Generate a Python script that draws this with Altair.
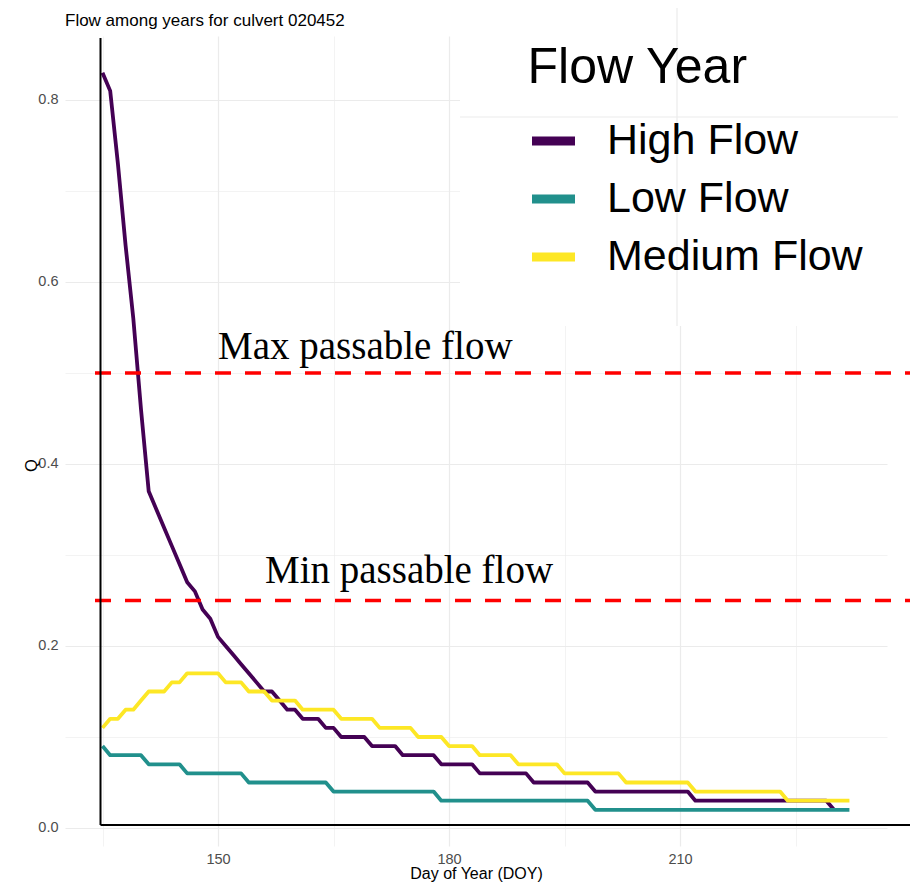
import altair as alt
import pandas as pd

# ---------------- data ----------------
categories = ["High Flow", "Low Flow", "Medium Flow"]
colors = ["#440154", "#21908C", "#FDE725"]
start_day = 135

high_flow = [
    0.83, 0.81, 0.73, 0.64, 0.56, 0.46, 0.37, 0.35, 0.33, 0.31,   # 135-144
    0.29, 0.27, 0.26, 0.24, 0.23, 0.21, 0.20, 0.19, 0.18, 0.17,   # 145-154
    0.16, 0.15, 0.15, 0.14, 0.13, 0.13, 0.12, 0.12, 0.12, 0.11,   # 155-164
    0.11, 0.10, 0.10, 0.10, 0.10, 0.09, 0.09, 0.09, 0.09, 0.08,   # 165-174
    0.08, 0.08, 0.08, 0.08, 0.07, 0.07, 0.07, 0.07, 0.07, 0.06,   # 175-184
    0.06, 0.06, 0.06, 0.06, 0.06, 0.06, 0.05, 0.05, 0.05, 0.05,   # 185-194
    0.05, 0.05, 0.05, 0.05, 0.04, 0.04, 0.04, 0.04, 0.04, 0.04,   # 195-204
    0.04, 0.04, 0.04, 0.04, 0.04, 0.04, 0.04, 0.03, 0.03, 0.03,   # 205-214
    0.03, 0.03, 0.03, 0.03, 0.03, 0.03, 0.03, 0.03, 0.03, 0.03,   # 215-224
    0.03, 0.03, 0.03, 0.03, 0.03, 0.02,                           # 225-230
]

medium_flow = [
    0.11, 0.12, 0.12, 0.13, 0.13, 0.14, 0.15, 0.15, 0.15, 0.16,   # 135-144
    0.16, 0.17, 0.17, 0.17, 0.17, 0.17, 0.16, 0.16, 0.16, 0.15,   # 145-154
    0.15, 0.15, 0.14, 0.14, 0.14, 0.14, 0.13, 0.13, 0.13, 0.13,   # 155-164
    0.13, 0.12, 0.12, 0.12, 0.12, 0.12, 0.11, 0.11, 0.11, 0.11,   # 165-174
    0.11, 0.10, 0.10, 0.10, 0.10, 0.09, 0.09, 0.09, 0.09, 0.08,   # 175-184
    0.08, 0.08, 0.08, 0.08, 0.07, 0.07, 0.07, 0.07, 0.07, 0.07,   # 185-194
    0.06, 0.06, 0.06, 0.06, 0.06, 0.06, 0.06, 0.06, 0.05, 0.05,   # 195-204
    0.05, 0.05, 0.05, 0.05, 0.05, 0.05, 0.05, 0.04, 0.04, 0.04,   # 205-214
    0.04, 0.04, 0.04, 0.04, 0.04, 0.04, 0.04, 0.04, 0.04, 0.03,   # 215-224
    0.03, 0.03, 0.03, 0.03, 0.03, 0.03, 0.03, 0.03,               # 225-232
]

low_flow = [
    0.09, 0.08, 0.08, 0.08, 0.08, 0.08, 0.07, 0.07, 0.07, 0.07,   # 135-144
    0.07, 0.06, 0.06, 0.06, 0.06, 0.06, 0.06, 0.06, 0.06, 0.05,   # 145-154
    0.05, 0.05, 0.05, 0.05, 0.05, 0.05, 0.05, 0.05, 0.05, 0.05,   # 155-164
    0.04, 0.04, 0.04, 0.04, 0.04, 0.04, 0.04, 0.04, 0.04, 0.04,   # 165-174
    0.04, 0.04, 0.04, 0.04, 0.03, 0.03, 0.03, 0.03, 0.03, 0.03,   # 175-184
    0.03, 0.03, 0.03, 0.03, 0.03, 0.03, 0.03, 0.03, 0.03, 0.03,   # 185-194
    0.03, 0.03, 0.03, 0.03, 0.02, 0.02, 0.02, 0.02, 0.02, 0.02,   # 195-204
    0.02, 0.02, 0.02, 0.02, 0.02, 0.02, 0.02, 0.02, 0.02, 0.02,   # 205-214
    0.02, 0.02, 0.02, 0.02, 0.02, 0.02, 0.02, 0.02, 0.02, 0.02,   # 215-224
    0.02, 0.02, 0.02, 0.02, 0.02, 0.02, 0.02, 0.02,               # 225-232
]

threshold_values = [0.5, 0.25]
annotation_labels = ["Max passable flow", "Min passable flow"]
annotation_x = [150.0, 156.1]
annotation_y = [0.515, 0.269]

x_tick_values = [135, 150, 165, 180, 195, 210, 225]
y_tick_values = [0.0, 0.1, 0.2, 0.3, 0.4, 0.5, 0.6, 0.7, 0.8]

chart_title = "Flow among years for culvert 020452"
x_title = "Day of Year (DOY)"
y_title = "Q"
legend_title = "Flow Year"

# ---------------- tables ----------------
rows = []
for name, series in zip(categories, [high_flow, low_flow, medium_flow]):
    for i, v in enumerate(series):
        rows.append({"day": start_day + i, "Q": v, "Flow Year": name})
df = pd.DataFrame(rows)

thr_df = pd.DataFrame({"y": threshold_values})
ann_df = pd.DataFrame({"label": annotation_labels, "x": annotation_x, "y": annotation_y})
one = pd.DataFrame({"a": [0]})
title_df = pd.DataFrame({"t": [chart_title]})

W, H = 822, 810
PAD = {"left": 57, "top": 28, "right": 23, "bottom": 37}
RIGHT_EDGE = W + PAD["right"]

x_scale = alt.Scale(domain=[130.13, 236.88], nice=False, zero=False)
y_scale = alt.Scale(domain=[-0.0198, 0.8703], nice=False, zero=False)

SANS = "Liberation Sans, Arial, sans-serif"
GRID = "#EBEBEB"

x_axis = alt.Axis(
    values=x_tick_values,
    labelExpr="datum.value % 30 == 0 ? datum.label : ''",
    title=x_title,
    grid=True,
    gridColor=GRID,
    gridWidth={"condition": {"test": "datum.value % 30 != 0", "value": 0.6}, "value": 1.2},
    ticks=False,
    domain=False,
    labelFont=SANS,
    labelFontSize=14.5,
    labelColor="#4D4D4D",
    labelPadding=6,
    titleFont=SANS,
    titleFontSize=16,
    titleFontWeight="normal",
    titleColor="black",
    titlePadding=0,
)
y_axis = alt.Axis(
    values=y_tick_values,
    labelExpr="round(datum.value * 10) % 2 == 0 ? format(datum.value, '.1f') : ''",
    title=y_title,
    grid=True,
    gridColor=GRID,
    gridWidth={"condition": {"test": "round(datum.value * 10) % 2 == 1", "value": 0.6}, "value": 1.2},
    ticks=False,
    domain=False,
    labelFont=SANS,
    labelFontSize=14.5,
    labelColor="#4D4D4D",
    labelPadding=7,
    titleFont=SANS,
    titleFontSize=16.5,
    titleFontWeight="normal",
    titleColor="black",
    titleX=-34,
    titleY=429,
    titleBaseline="middle",
)

# white box behind the legend (covers gridlines)
legend_box = alt.Chart(one).mark_rect(color="white", clip=False).encode(
    x=alt.value(395), x2=alt.value(RIGHT_EDGE), y=alt.value(-28), y2=alt.value(290)
)
legend_line_v = alt.Chart(one).mark_rule(color=GRID, strokeWidth=1.2, clip=False).encode(
    x=alt.value(612), y=alt.value(-28), y2=alt.value(290)
)
legend_line_h = alt.Chart(one).mark_rule(color=GRID, strokeWidth=1.2, clip=False).encode(
    y=alt.value(81), x=alt.value(395), x2=alt.value(833)
)

lines = alt.Chart(df).mark_line(strokeWidth=3.8, strokeJoin="round").encode(
    x=alt.X("day:Q", scale=x_scale, axis=x_axis),
    y=alt.Y("Q:Q", scale=y_scale, axis=y_axis),
    color=alt.Color(
        "Flow Year:N",
        scale=alt.Scale(domain=categories, range=colors),
        legend=alt.Legend(
            orient="none",
            legendX=462.5,
            legendY=7,
            title=legend_title,
            titleFont=SANS,
            titleFontSize=50,
            titleFontWeight="normal",
            titleColor="black",
            titlePadding=22,
            titleLimit=0,
            labelFont=SANS,
            labelFontSize=43,
            labelColor="black",
            labelLimit=0,
            labelOffset=27.5,
            symbolType="stroke",
            symbolSize=1849,
            symbolStrokeWidth=9,
            rowPadding=10,
            padding=0,
        ),
    ),
)

thresholds = alt.Chart(thr_df).mark_rule(
    color="#FF0000", strokeWidth=3.5, strokeDash=[16, 14], clip=False
).encode(y=alt.Y("y:Q", scale=y_scale), x=alt.value(30), x2=alt.value(RIGHT_EDGE))

annotations = alt.Chart(ann_df).mark_text(
    font="Liberation Serif, Times New Roman, serif", fontSize=39, align="left",
    baseline="alphabetic", color="black"
).encode(x=alt.X("x:Q", scale=x_scale), y=alt.Y("y:Q", scale=y_scale), text="label:N")

axis_v = alt.Chart(one).mark_rule(color="black", strokeWidth=2, clip=False).encode(
    x=alt.value(35.5), y=alt.value(2), y2=alt.value(789)
)
axis_h = alt.Chart(one).mark_rule(color="black", strokeWidth=2, clip=False).encode(
    y=alt.value(789), x=alt.value(35.5), x2=alt.value(RIGHT_EDGE)
)

title_text = alt.Chart(title_df).mark_text(
    font=SANS, fontSize=17, align="left", baseline="alphabetic", color="black"
).encode(x=alt.value(0), y=alt.value(-10), text="t:N")

chart = alt.layer(
    legend_box, legend_line_v, legend_line_h, lines, thresholds, annotations,
    axis_v, axis_h, title_text
).properties(
    width=W, height=H,
    autosize=alt.AutoSizeParams(type="none"),
    padding=PAD,
    background="white",
).configure_view(stroke=None)

chart.save("out.html", embed_options={"renderer": "svg", "actions": False})
